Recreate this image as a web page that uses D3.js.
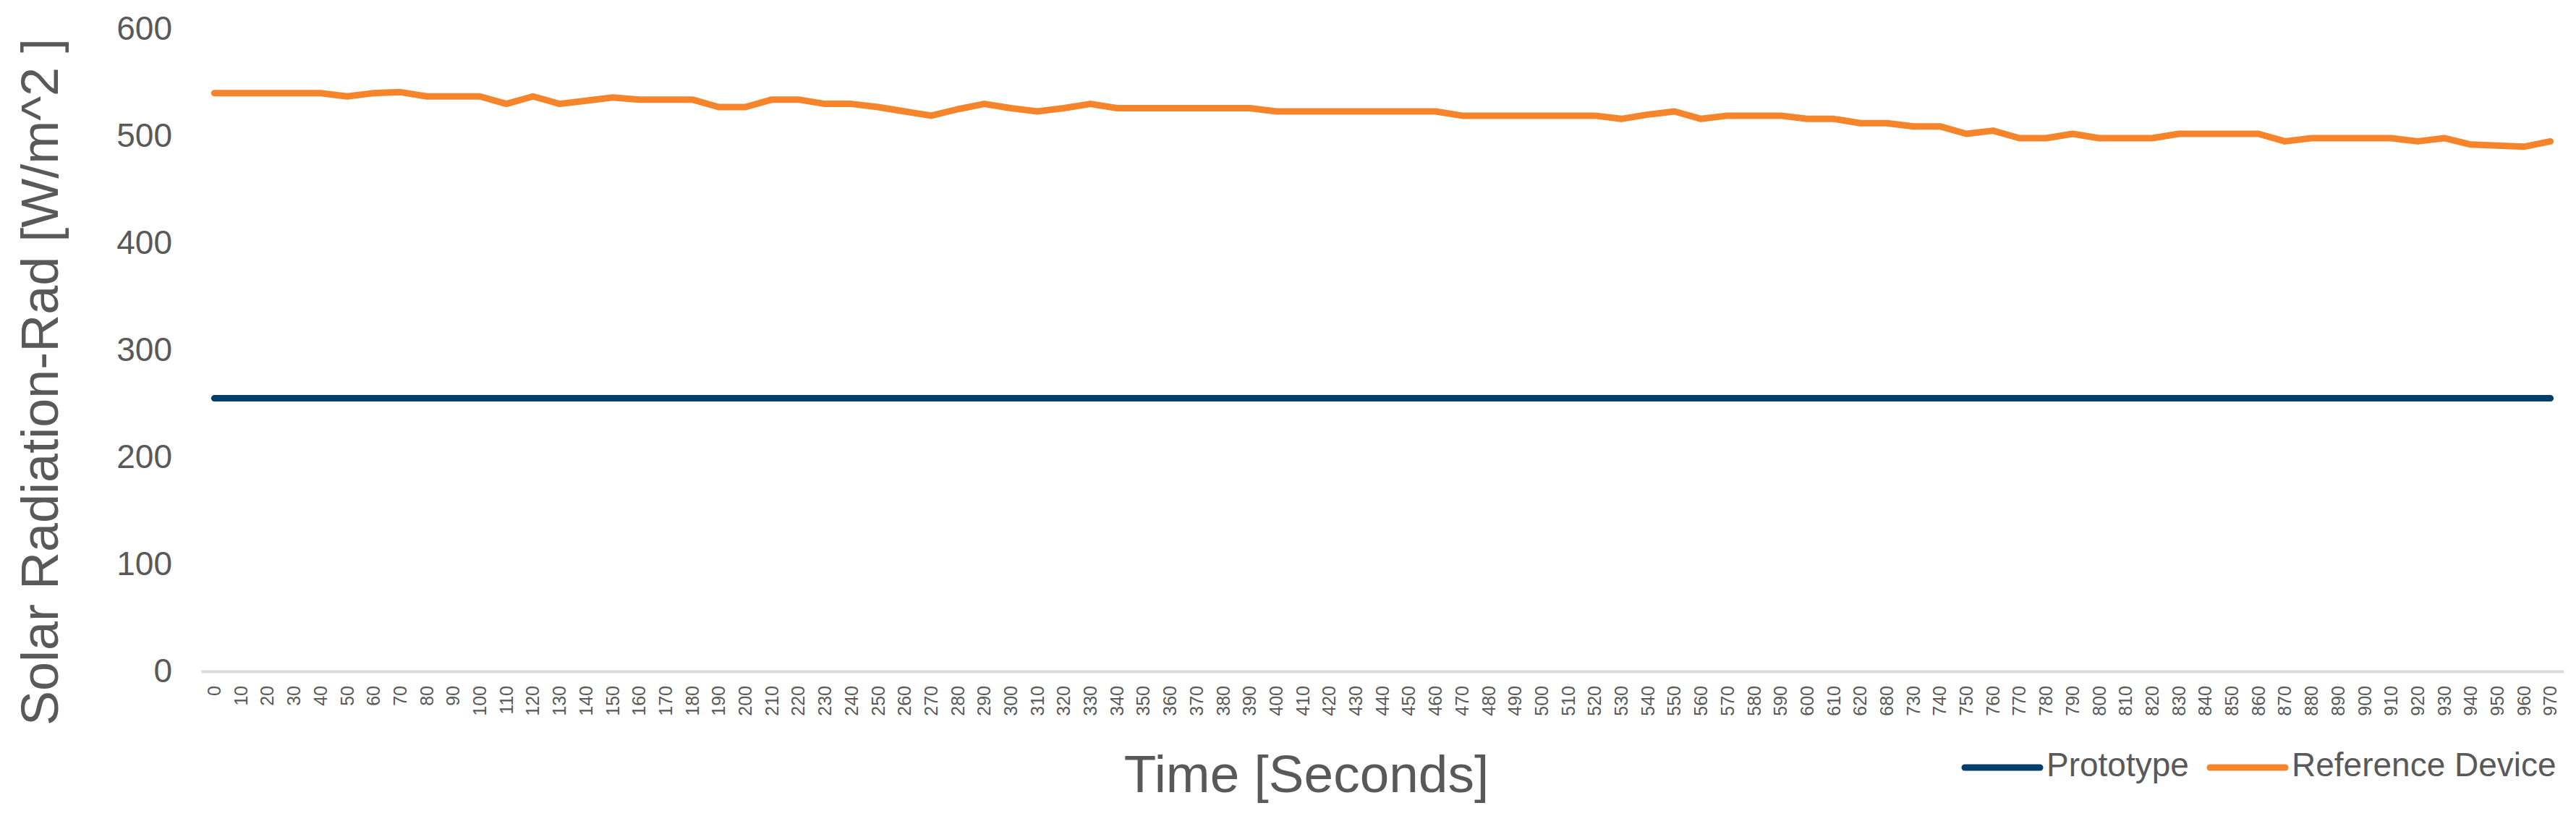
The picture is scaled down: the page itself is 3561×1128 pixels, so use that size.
<!DOCTYPE html>
<html>
<head>
<meta charset="utf-8">
<script src="https://cdn.jsdelivr.net/npm/d3@7"></script>
<style>
  html, body { margin: 0; padding: 0; background: #ffffff; }
  svg { display: block; font-family: "Liberation Sans", Arial, sans-serif; }
</style>
</head>
<body>
<svg id="chart" width="3561" height="1128"></svg>
<script>
const timeLabels = [
  "0","10","20","30","40","50","60","70","80","90",
  "100","110","120","130","140","150","160","170","180","190",
  "200","210","220","230","240","250","260","270","280","290",
  "300","310","320","330","340","350","360","370","380","390",
  "400","410","420","430","440","450","460","470","480","490",
  "500","510","520","530","540","550","560","570","580","590",
  "600","610","620","680","730","740","750","760","770","780",
  "790","800","810","820","830","840","850","860","870","880",
  "890","900","910","920","930","940","950","960","970"
];
const referenceDevice = [
  540,540,540,540,540,537,540,541,537,537,
  537,530,537,530,533,536,534,534,534,527,
  527,534,534,530,530,527,523,519,525,530,
  526,523,526,530,526,526,526,526,526,526,
  523,523,523,523,523,523,523,519,519,519,
  519,519,519,516,520,523,516,519,519,519,
  516,516,512,512,509,509,502,505,498,498,
  502,498,498,498,502,502,502,502,495,498,
  498,498,498,495,498,492,491,490,495
];
const prototype = timeLabels.map(() => 255);
const yTicks = [0, 100, 200, 300, 400, 500, 600];
const seriesNames = ["Prototype", "Reference Device"];
const seriesColors = ["#023e6c", "#f5842b"];

const svg = d3.select("#chart");
const textColor = "#595959";

const x = d3.scaleBand().domain(timeLabels).range([278, 3544]).padding(0);
const y = d3.scaleLinear().domain([0, 600]).range([928, 40]);
const cx = d => x(d) + x.bandwidth() / 2;

// Y axis labels
const yAxis = d3.axisLeft(y).tickValues(yTicks).tickSize(0).tickPadding(0);
const yG = svg.append("g").attr("transform", "translate(238,0)").call(yAxis);
yG.select(".domain").remove();
yG.selectAll("text")
  .attr("fill", textColor)
  .attr("font-size", 46)
  .attr("font-family", "Liberation Sans, Arial, sans-serif");

// X axis
const xAxis = d3.axisBottom(x).tickSize(0).tickPadding(0);
const xG = svg.append("g").attr("transform", "translate(0,928)").call(xAxis);
xG.select(".domain").attr("stroke", "#d9d9d9").attr("stroke-width", 4);
xG.selectAll("text")
  .attr("fill", textColor)
  .attr("font-size", 25)
  .attr("font-family", "Liberation Sans, Arial, sans-serif")
  .attr("text-anchor", "end")
  .attr("y", 0)
  .attr("dy", "0.35em")
  .attr("transform", "translate(0,20) rotate(-90)");

// Lines
const line = d3.line()
  .x((d, i) => cx(timeLabels[i]))
  .y(d => y(d));

const seriesData = [prototype, referenceDevice];
svg.append("g").selectAll("path")
  .data(seriesData)
  .join("path")
  .attr("d", d => line(d))
  .attr("fill", "none")
  .attr("stroke", (d, i) => seriesColors[i])
  .attr("stroke-width", 9)
  .attr("stroke-linejoin", "round")
  .attr("stroke-linecap", "round");

// Axis titles
svg.append("text")
  .attr("transform", "translate(80,528) rotate(-90)")
  .attr("text-anchor", "middle")
  .attr("fill", textColor)
  .attr("font-size", 72)
  .text("Solar Radiation-Rad [W/m^2 ]");

svg.append("text")
  .attr("x", 1806)
  .attr("y", 1095)
  .attr("text-anchor", "middle")
  .attr("fill", textColor)
  .attr("font-size", 73)
  .text("Time [Seconds]");

// Legend
const legendItems = [
  { name: seriesNames[0], color: seriesColors[0], x0: 2716, x1: 2820, tx: 2829 },
  { name: seriesNames[1], color: seriesColors[1], x0: 3055, x1: 3159, tx: 3168 }
];
const lg = svg.append("g");
legendItems.forEach(it => {
  lg.append("line")
    .attr("x1", it.x0).attr("x2", it.x1)
    .attr("y1", 1061).attr("y2", 1061)
    .attr("stroke", it.color).attr("stroke-width", 9)
    .attr("stroke-linecap", "round");
  lg.append("text")
    .attr("x", it.tx).attr("y", 1073)
    .attr("fill", textColor)
    .attr("font-size", 46)
    .text(it.name);
});
</script>
</body>
</html>
